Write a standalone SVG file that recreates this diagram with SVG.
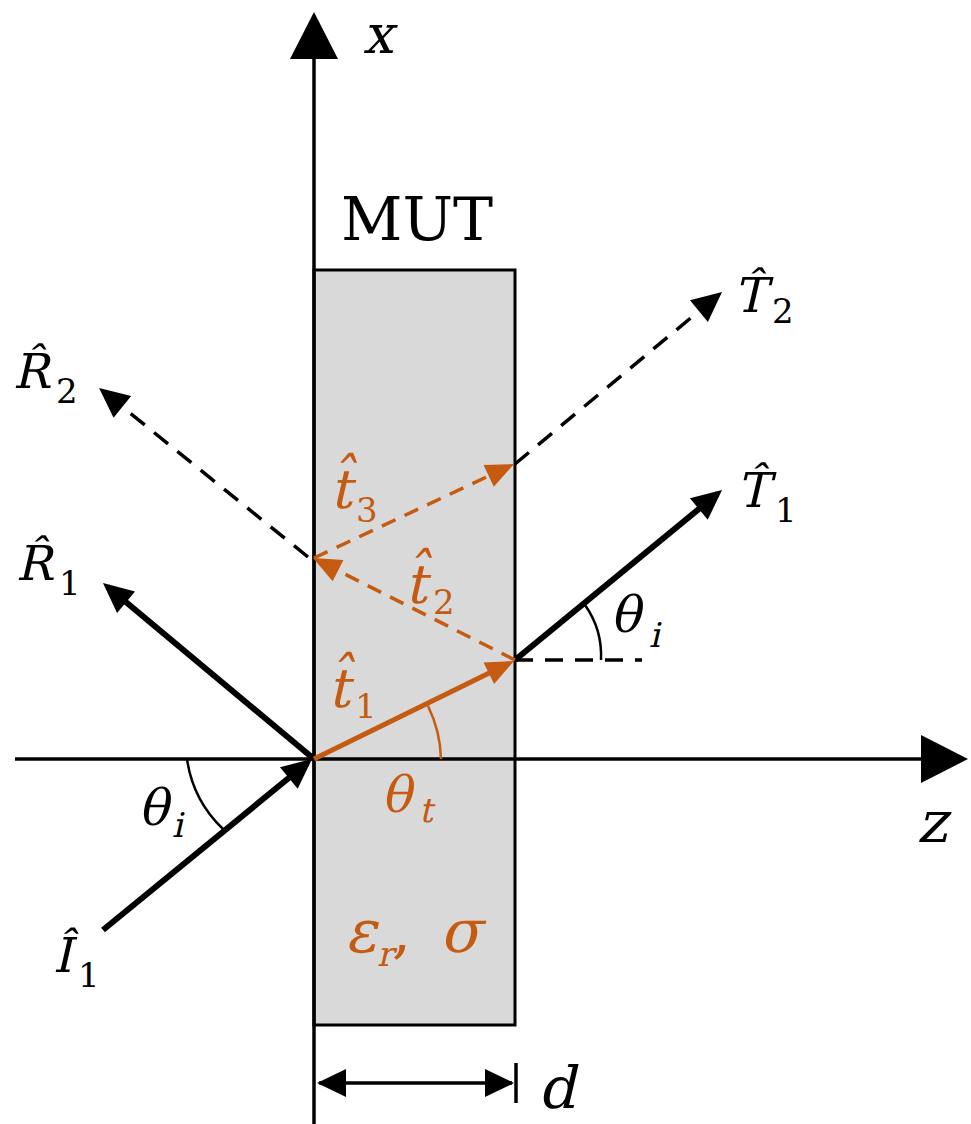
<svg xmlns="http://www.w3.org/2000/svg" width="971" height="1124" viewBox="0 0 971 1124">
<style>
text{font-family:"DejaVu Serif",serif;font-style:normal}
.L{font-size:48px}
.t{font-size:54px}
.g{font-size:50px}
.big{font-size:58px}
.s{font-size:34px}
.o{fill:#C55A11}
.ax{stroke:#000;stroke-width:3.5;fill:none}
.sb{stroke:#000;stroke-width:6;fill:none}
.so{stroke:#C55A11;stroke-width:5;fill:none}
.db{stroke:#000;stroke-width:3.5;fill:none;stroke-dasharray:18 12}
.do{stroke:#C55A11;stroke-width:3.5;fill:none;stroke-dasharray:15 10}
.arc{stroke:#000;stroke-width:2.5;fill:none}
.arco{stroke:#C55A11;stroke-width:2.5;fill:none}
</style>
<defs>
<marker id="ahB" markerUnits="userSpaceOnUse" markerWidth="32" markerHeight="30" refX="24" refY="14" orient="auto" overflow="visible"><path d="M0,0 L30,14 L0,28 z" fill="#000"/></marker>
<marker id="ahO" markerUnits="userSpaceOnUse" markerWidth="30" markerHeight="26" refX="22" refY="12" orient="auto" overflow="visible"><path d="M0,0 L28,12 L0,24 z" fill="#C55A11"/></marker>
<marker id="ahAx" markerUnits="userSpaceOnUse" markerWidth="48" markerHeight="48" refX="1" refY="24" orient="auto" overflow="visible"><path d="M0,0 L47,24 L0,48 z" fill="#000"/></marker>
<marker id="ahD" markerUnits="userSpaceOnUse" markerWidth="30" markerHeight="28" refX="27" refY="14" orient="auto-start-reverse" overflow="visible"><path d="M0,0 L29,14 L0,28 z" fill="#000"/></marker>
</defs>
<rect width="971" height="1124" fill="#fff"/>

<g id="mut">
<rect x="314" y="270" width="201" height="755" fill="#D9D9D9" stroke="#000" stroke-width="3"/>
<text x="341" y="240" font-size="60">MUT</text>
<g id="lbl-eps-sigma" class="o">
<text class="o" font-size="60" transform="translate(345 952) skewX(-13)">ε</text>
<text class="o s" transform="translate(377 966) skewX(-13)">r</text>
<text class="o" font-size="60" x="392" y="952">,</text>
<text class="o" font-size="60" transform="translate(440 952) skewX(-13)">σ</text>
</g>
</g>

<g id="connectors">
<line id="axis-x" class="ax" x1="314" y1="1124" x2="314" y2="58" marker-end="url(#ahAx)"/>
<line id="axis-z" class="ax" x1="15" y1="759" x2="922" y2="759" marker-end="url(#ahAx)"/>
<line id="I1" class="sb" x1="103" y1="930" x2="307.4" y2="762.8" marker-end="url(#ahB)"/>
<line id="R1" class="sb" x1="314" y1="759" x2="107.6" y2="586.8" marker-end="url(#ahB)"/>
<line id="t1" class="so" x1="314" y1="759" x2="508.6" y2="663.6" marker-end="url(#ahO)"/>
<line id="T1" class="sb" x1="515" y1="660" x2="717.4" y2="493.8" marker-end="url(#ahB)"/>
<line id="normal" class="db" x1="515" y1="660" x2="642" y2="660"/>
<line id="t2" class="do" x1="515" y1="660" x2="318.4" y2="560.7" marker-end="url(#ahO)"/>
<line id="R2" class="db" x1="308" y1="557" x2="103.7" y2="391.8" marker-end="url(#ahB)"/>
<line id="t3" class="do" x1="314" y1="558" x2="508.6" y2="466.6" marker-end="url(#ahO)"/>
<line id="T2" class="db" x1="515" y1="464" x2="717.4" y2="295.8" marker-end="url(#ahB)"/>
<line id="dim-d" class="ax" x1="319" y1="1083" x2="512" y2="1083" marker-start="url(#ahD)" marker-end="url(#ahD)"/>
<line id="dim-tick" class="ax" x1="516" y1="1063" x2="516" y2="1103"/>
<path id="arc-i1" class="arc" d="M187,759 A120,120 0 0,0 223,829"/>
<path id="arc-i2" class="arc" d="M601,660 A88,88 0 0,0 585,605"/>
<path id="arc-t" class="arco" d="M441,759 A127,127 0 0,0 428,706"/>
</g>

<g id="labels">
<text id="lbl-x" font-size="54" text-anchor="middle" transform="translate(378 53) skewX(-13)">x</text>
<text id="lbl-z" class="big" text-anchor="middle" transform="translate(932 842) skewX(-13)">z</text>
<text id="lbl-d" class="big" transform="translate(538 1108) skewX(-13)">d</text>

<g id="lbl-R2"><text class="L" transform="translate(13 388) skewX(-13)">R̂</text><text class="s" x="56" y="403">2</text></g>
<g id="lbl-R1"><text class="L" transform="translate(16 580) skewX(-13)">R̂</text><text class="s" x="59" y="595">1</text></g>
<g id="lbl-I1"><text class="L" transform="translate(53 972) skewX(-13)">Î</text><text class="s" x="78" y="987">1</text></g>
<g id="lbl-T1"><text class="L" transform="translate(737 507) skewX(-13)">T̂</text><text class="s" x="775" y="522">1</text></g>
<g id="lbl-T2"><text class="L" transform="translate(734 312) skewX(-13)">T̂</text><text class="s" x="772" y="323">2</text></g>
<g id="lbl-thi1"><text class="g" transform="translate(138 825) skewX(-13)">θ</text><text class="s" transform="translate(172 837) skewX(-13)">i</text></g>
<g id="lbl-thi2"><text class="g" transform="translate(610 632) skewX(-13)">θ</text><text class="s" transform="translate(649 647) skewX(-13)">i</text></g>
<g id="lbl-tht"><text class="g o" transform="translate(381 812) skewX(-13)">θ</text><text class="s o" transform="translate(419 822) skewX(-13)">t</text></g>
<g id="lbl-t1"><text class="t o" transform="translate(328 707) skewX(-13)">t̂</text><text class="s o" x="355" y="718">1</text></g>
<g id="lbl-t2"><text class="t o" transform="translate(405 603) skewX(-13)">t̂</text><text class="s o" x="433" y="614">2</text></g>
<g id="lbl-t3"><text class="t o" transform="translate(330 508) skewX(-13)">t̂</text><text class="s o" x="356" y="522">3</text></g>
</g>
</svg>
